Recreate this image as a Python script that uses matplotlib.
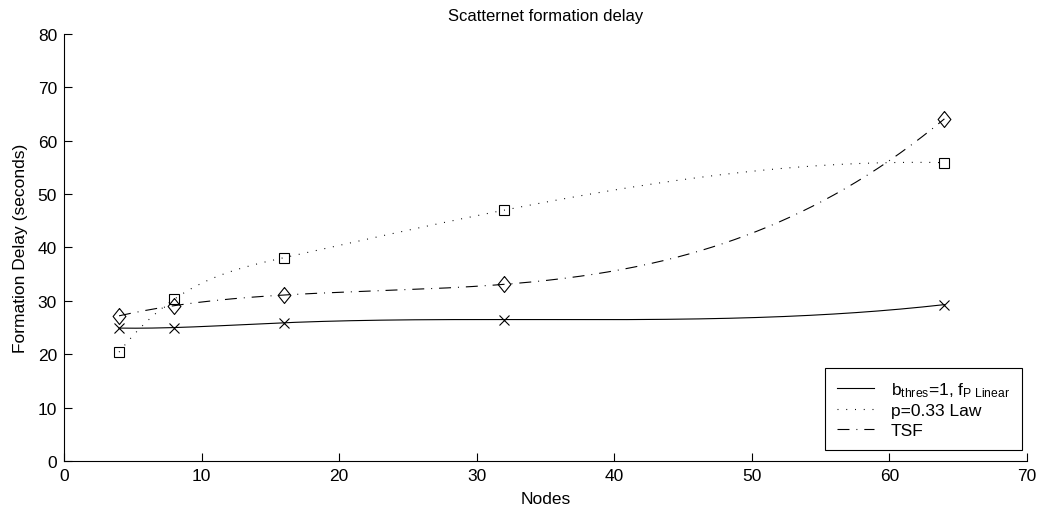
import numpy as np
import matplotlib
matplotlib.use('Agg')
import matplotlib.pyplot as plt

# values
nodes = [4, 8, 16, 32, 64]
delay_bthres = [24.9, 25.0, 25.9, 26.5, 29.3]
delay_law = [20.4, 30.3, 38.1, 47.0, 55.9]
delay_tsf = [27.2, 29.1, 31.1, 33.1, 64.1]

labels = [r'b$_{\mathrm{thres}}$=1, f$_{\mathrm{P\ Linear}}$', 'p=0.33 Law', 'TSF']

plt.rcParams['font.family'] = ['Liberation Sans', 'DejaVu Sans']
plt.rcParams['mathtext.fontset'] = 'custom'
plt.rcParams['mathtext.rm'] = 'Liberation Sans'
plt.rcParams['mathtext.it'] = 'Liberation Sans'
plt.rcParams['lines.scale_dashes'] = False


def spline(x, y, num=300):
    # not-a-knot cubic spline, like matlab's smooth curve through the points
    x = np.asarray(x, float)
    y = np.asarray(y, float)
    n = len(x)
    h = np.diff(x)
    A = np.zeros((n, n))
    b = np.zeros(n)
    A[0, 0], A[0, 1], A[0, 2] = h[1], -(h[0] + h[1]), h[0]
    A[-1, -3], A[-1, -2], A[-1, -1] = h[-1], -(h[-2] + h[-1]), h[-2]
    for i in range(1, n - 1):
        A[i, i - 1] = h[i - 1]
        A[i, i] = 2 * (h[i - 1] + h[i])
        A[i, i + 1] = h[i]
        b[i] = 6 * ((y[i + 1] - y[i]) / h[i] - (y[i] - y[i - 1]) / h[i - 1])
    M = np.linalg.solve(A, b)
    t = np.linspace(x[0], x[-1], num)
    k = np.clip(np.searchsorted(x, t) - 1, 0, n - 2)
    hk = h[k]
    s = (M[k] * (x[k + 1] - t) ** 3 / (6 * hk) + M[k + 1] * (t - x[k]) ** 3 / (6 * hk)
         + (y[k] / hk - M[k] * hk / 6) * (x[k + 1] - t)
         + (y[k + 1] / hk - M[k + 1] * hk / 6) * (t - x[k]))
    return t, s


fig = plt.figure(figsize=(10.43, 5.10), dpi=100)
ax = fig.add_axes([0.0614, 0.0941, 0.9232, 0.8373])

diamond = [(0, 1), (0.8, 0), (0, -1), (-0.8, 0), (0, 1)]
series = [
    (delay_bthres, '-', 'x', 7),
    (delay_law, (0, (0.7, 5.6)), 's', 7.5),
    (delay_tsf, (0, (8.6, 5.0, 0.7, 5.0)), diamond, 11.5),
]
for (vals, ls, mk, ms), lab in zip(series, labels):
    t, s = spline(nodes, vals)
    ax.plot(t, s, color='black', linestyle=ls, linewidth=0.8, label=lab)
    ax.plot(nodes, vals, linestyle='none', marker=mk, markersize=ms,
            markerfacecolor='none', markeredgecolor='black', markeredgewidth=0.8)

ax.set_xlim(0, 70)
ax.set_ylim(0, 80)
ax.set_xticks(range(0, 71, 10))
ax.set_yticks(range(0, 81, 10))
ax.spines['top'].set_visible(False)
ax.spines['right'].set_visible(False)
ax.tick_params(direction='in', length=6, width=0.8, labelsize=12.5, pad=5)

ax.set_title('Scatternet formation delay', fontsize=12, pad=10)
ax.set_xlabel('Nodes', fontsize=12.5, labelpad=6)
ax.set_ylabel('Formation Delay (seconds)', fontsize=12.5, labelpad=7)

leg = ax.legend(loc='lower right', bbox_to_anchor=(0.995, 0.026), fontsize=12.5,
                frameon=True, fancybox=False, edgecolor='black', framealpha=1,
                handlelength=2.1, labelspacing=0.25, borderpad=0.7,
                handletextpad=1.0, borderaxespad=0)
leg.get_frame().set_linewidth(0.8)

fig.savefig('out.png', dpi=100)
